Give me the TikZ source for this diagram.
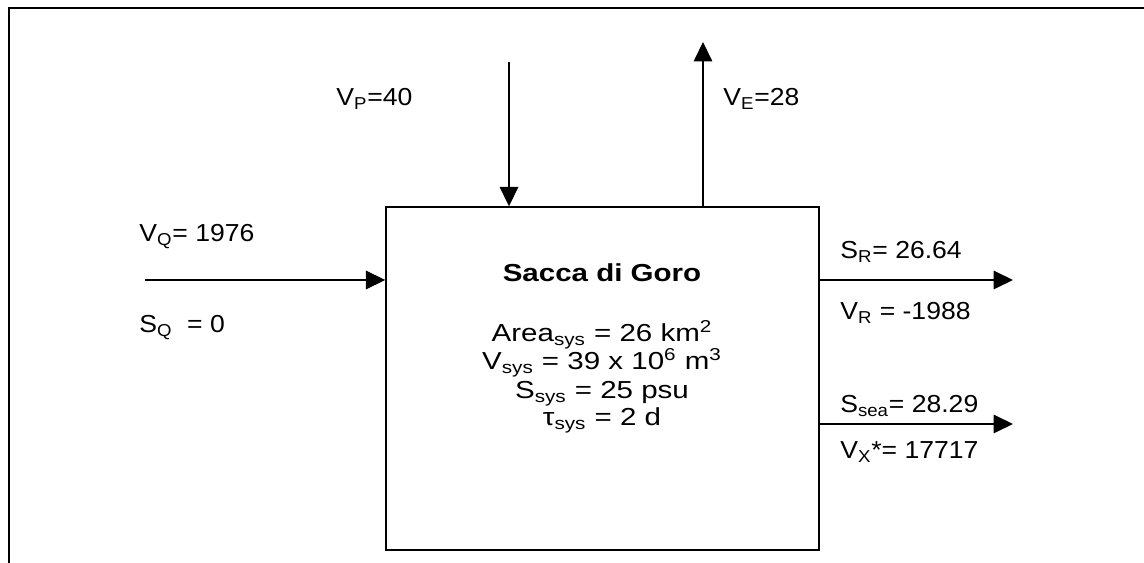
\documentclass[tikz,border=0pt]{standalone}
\usepackage{fontspec}
\setmainfont{Liberation Sans}[FakeStretch=1.08]
\newfontfamily\boxfont{Liberation Sans}[FakeStretch=1.2]
\usetikzlibrary{arrows.meta}

\begin{document}
\begin{tikzpicture}[x=0.02cm,y=-0.02cm,>={Triangle[length=11pt,width=10.5pt]}]
 \tikzstyle{flow} = [->,line width=0.75pt]
 \tikzstyle{sysbox} = [draw=black,line width=0.85pt,minimum width=8.66cm,minimum height=6.86cm,inner sep=0]
 \tikzstyle{lbl} = [anchor=base west,inner sep=0,font=\fontsize{14}{17}\selectfont]
 \tikzstyle{sysline} = [anchor=base,inner sep=0,font=\boxfont\fontsize{14}{17}\selectfont]

 \useasboundingbox (0,0) rectangle (1144,563);

 % Frame
 \coordinate (f1) at (9,563);
 \coordinate (f2) at (9,8);
 \coordinate (f3) at (1144,8);
 \draw[line width=1.15pt] (f1) -- (f2) -- (f3);

 % System box
 \node[sysbox] (sys) at (602.5,378.5) {};
 \node[sysline,font=\boxfont\bfseries\fontsize{14}{17}\selectfont] (name) at (602,282) {Sacca di Goro};
 \node[sysline] (area) at (602,342) {Area\textsubscript{sys} = 26 km\textsuperscript{2}};
 \node[sysline] (vol) at (602,370) {V\textsubscript{sys} = 39 x 10\textsuperscript{6} m\textsuperscript{3}};
 \node[sysline] (sal) at (602,399) {S\textsubscript{sys} = 25 psu};
 \node[sysline] (tau) at (602,426) {τ\textsubscript{sys} = 2 d};

 % Free ends
 \coordinate (qin) at (145,280);
 \coordinate (pin) at (509,62);
 \coordinate (eout) at (703,42);
 \coordinate (rout) at (1013,280);
 \coordinate (xout) at (1013,424);

 % Flows
 \draw[flow] (qin) -- (qin -| sys.west);
 \draw[flow] (pin) -- (pin |- sys.north);
 \draw[flow] (eout |- sys.north) -- (eout);
 \draw[flow] (rout -| sys.east) -- (rout);
 \draw[flow] (xout -| sys.east) -- (xout);

 % Labels
 \node[lbl] (vq) at (139,242) {V\textsubscript{Q}= 1976};
 \node[lbl] (sq) at (139,333) {S\textsubscript{Q}\ \ = 0};
 \node[lbl] (vp) at (336,106) {V\textsubscript{P}=40};
 \node[lbl] (ve) at (723,106) {V\textsubscript{E}=28};
 \node[lbl] (sr) at (840,259) {S\textsubscript{R}= 26.64};
 \node[lbl] (vr) at (840,320) {V\textsubscript{R} = -1988};
 \node[lbl] (ssea) at (840,413) {S\textsubscript{sea}= 28.29};
 \node[lbl] (vx) at (840,459) {V\textsubscript{X}*= 17717};

\end{tikzpicture}
\end{document}
